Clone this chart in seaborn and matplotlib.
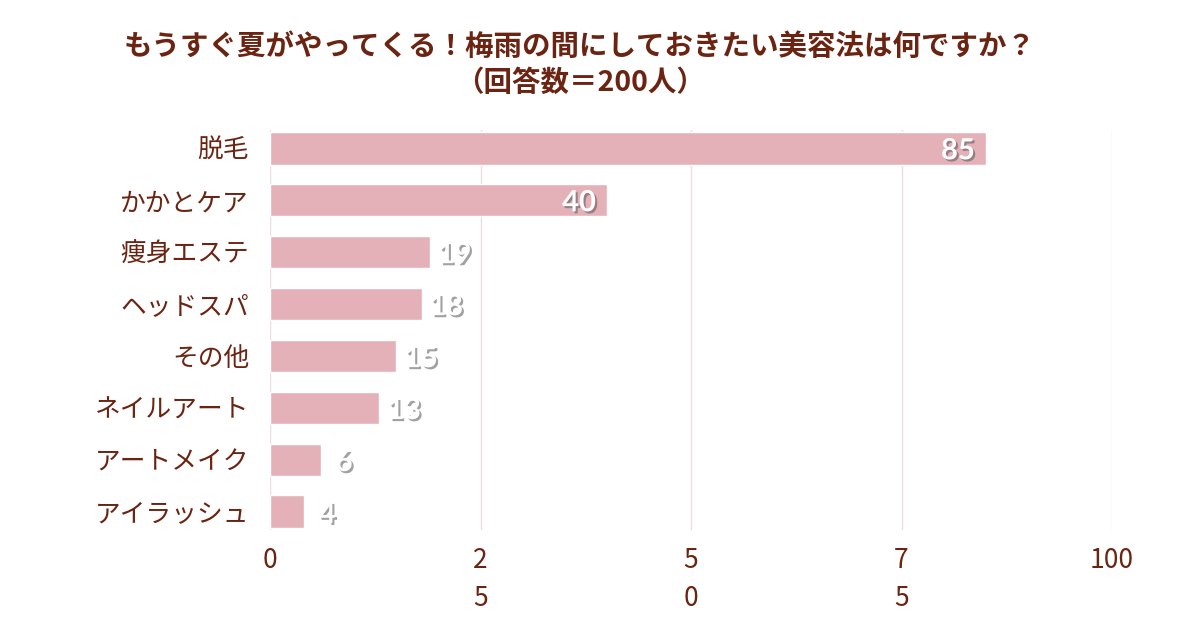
import matplotlib.pyplot as plt
import matplotlib.patheffects as pe
import seaborn as sns
import pandas as pd

# data
categories = ['脱毛', 'かかとケア', '痩身エステ', 'ヘッドスパ', 'その他', 'ネイルアート', 'アートメイク', 'アイラッシュ']
counts = [85, 40, 19, 18, 15, 13, 6, 4]
tick_values = [0, 25, 50, 75, 100]
tick_labels = ['0', '2\n5', '5\n0', '7\n5', '100']

df = pd.DataFrame({'item': categories, 'count': counts})

sns.set_style('white')
plt.rcParams['font.family'] = ['Noto Sans CJK JP', 'DejaVu Sans']

brown = '#6b2412'
bar_color = '#e5b1b9'

fig = plt.figure(figsize=(12, 6.3), dpi=100)
ax = fig.add_axes([0.225, 1 - 530 / 630, (1112 - 270) / 1200, 400 / 630])

sns.barplot(data=df, x='count', y='item', orient='h', color=bar_color,
            width=0.63, saturation=1, ax=ax, zorder=2)

ax.set_xlim(0, 100)
ax.set_ylim(7.35, -0.35)
ax.set_xticks(tick_values)
ax.set_xticklabels(tick_labels, fontsize=19, color=brown, linespacing=1.55, va='top')
ax.tick_params(axis='x', length=0, pad=12)
ax.tick_params(axis='y', length=0, pad=15, labelsize=18.5, labelcolor=brown)
ax.set_xlabel('')
ax.set_ylabel('')
ax.grid(axis='x', color='#eadede', linewidth=1, zorder=0)
ax.set_axisbelow(True)
for s in ax.spines.values():
    s.set_visible(False)

# value labels, white with a grey shadow
effects = [pe.SimplePatchShadow(offset=(1.5, -1.5), shadow_rgbFace='#555555', alpha=0.55), pe.Normal()]
for i, v in enumerate(counts):
    if v >= 30:
        x, ha = v - 1.3, 'right'
    elif v < 10:
        x, ha = v + 1.8, 'left'
    else:
        x, ha = v + 0.9, 'left'
    ax.text(x, i + 0.06, str(v), ha=ha, va='center', color='white', fontsize=21,
            fontweight='bold', family=['Lato', 'DejaVu Sans'], path_effects=effects, zorder=3)

fig.text(0.483, 1 - 47 / 630, 'もうすぐ夏がやってくる！梅雨の間にしておきたい美容法は何ですか？',
         ha='center', va='center', fontsize=20.5, fontweight='bold', color=brown)
fig.text(0.483, 1 - 83 / 630, '（回答数＝200人）',
         ha='center', va='center', fontsize=20.5, fontweight='bold', color=brown)

fig.savefig('out.png', dpi=100, facecolor='white')
